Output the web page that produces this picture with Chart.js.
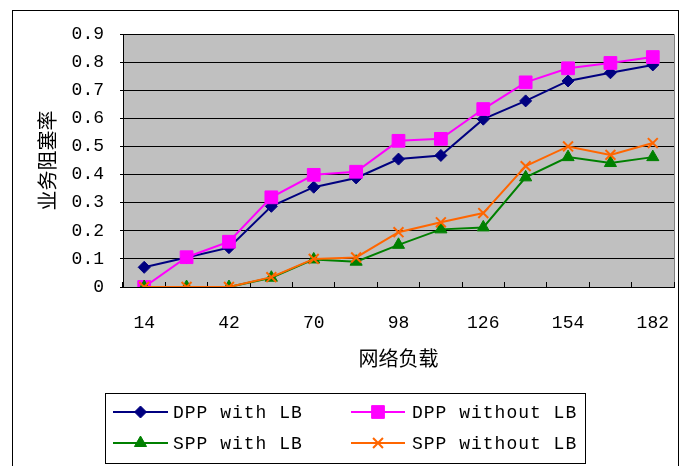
<!DOCTYPE html>
<html>
<head>
<meta charset="utf-8">
<script src="https://cdn.jsdelivr.net/npm/chart.js@4/dist/chart.umd.min.js"></script>
<style>
  html, body { margin: 0; padding: 0; background: #fff; }
  canvas { display: block; }
</style>
</head>
<body>
<canvas id="c" width="687" height="466"></canvas>
<script>
// Network load (x categories) and blocking rate per scheme
const categories = [14, 28, 42, 56, 70, 84, 98, 112, 126, 140, 154, 168, 182];
const dppWithLB    = [0.07, 0.105, 0.14, 0.287, 0.355, 0.388, 0.455, 0.468, 0.597, 0.662, 0.733, 0.762, 0.79];
const dppWithoutLB = [0, 0.106, 0.161, 0.319, 0.399, 0.41, 0.52, 0.527, 0.633, 0.728, 0.778, 0.797, 0.818];
const sppWithLB    = [0, 0, 0, 0.033, 0.098, 0.09, 0.15, 0.205, 0.212, 0.39, 0.462, 0.441, 0.462];
const sppWithoutLB = [0, 0, 0, 0.035, 0.1, 0.105, 0.195, 0.23, 0.263, 0.43, 0.5, 0.47, 0.512];
const yTickLabels = ['0', '0.1', '0.2', '0.3', '0.4', '0.5', '0.6', '0.7', '0.8', '0.9'];
const seriesNames = ['DPP with LB', 'DPP without LB', 'SPP with LB', 'SPP without LB'];
const xTitle = '网络负载';
const yTitle = '业务阻塞率';

const MONO = '"Liberation Mono", "DejaVu Sans Mono", monospace';
const CJK = '"Noto Sans CJK SC", "Noto Sans", sans-serif';

function series(label, data, color, pointStyle, radius, order) {
  return {
    label, data, order,
    borderColor: color,
    backgroundColor: color,
    pointBackgroundColor: color,
    pointBorderColor: color,
    borderWidth: 2,
    pointStyle,
    pointRadius: radius,
    pointBorderWidth: pointStyle === 'crossRot' ? 2 : 1,
    tension: 0,
    fill: false
  };
}

// Gray plot area, frame and outer border
const frame = {
  id: 'frame',
  beforeDraw(chart) {
    const { ctx, chartArea: a } = chart;
    ctx.save();
    ctx.fillStyle = '#fff';
    ctx.fillRect(0, 0, chart.width, chart.height);
    ctx.fillStyle = '#C0C0C0';
    ctx.fillRect(a.left, a.top, a.right - a.left, a.bottom - a.top);
    ctx.strokeStyle = '#808080';
    ctx.lineWidth = 1;
    ctx.beginPath();
    ctx.moveTo(a.left, Math.round(a.top) + 0.5);
    ctx.lineTo(Math.round(a.right) + 0.5, Math.round(a.top) + 0.5);
    ctx.lineTo(Math.round(a.right) + 0.5, a.bottom);
    ctx.stroke();
    ctx.strokeStyle = '#000';
    ctx.strokeRect(12.5, 10.5, 666, 480);
    ctx.restore();
  }
};

function marker(ctx, style, radius, bw, x, y) {
  if (window.Chart && Chart.helpers && Chart.helpers.drawPoint) {
    Chart.helpers.drawPoint(ctx, { pointStyle: style, radius, rotation: 0, borderWidth: bw }, x, y);
  }
}

// Two-column boxed legend with line-and-marker samples
const boxLegend = {
  id: 'boxLegend',
  afterDraw(chart) {
    const ctx = chart.ctx;
    ctx.save();
    ctx.strokeStyle = '#000';
    ctx.lineWidth = 1;
    ctx.strokeRect(105.5, 393.5, 480, 70);
    const cols = [{ x1: 113, x2: 168, tx: 173 }, { x1: 351, x2: 405, tx: 412 }];
    const rows = [412, 443];
    chart.data.datasets.forEach((ds, i) => {
      const c = cols[i % 2], y = rows[Math.floor(i / 2)];
      ctx.strokeStyle = ds.borderColor;
      ctx.fillStyle = ds.backgroundColor;
      ctx.lineWidth = 2;
      ctx.beginPath();
      ctx.moveTo(c.x1, y);
      ctx.lineTo(c.x2, y);
      ctx.stroke();
      ctx.lineWidth = ds.pointBorderWidth;
      marker(ctx, ds.pointStyle, ds.pointRadius, ds.pointBorderWidth, (c.x1 + c.x2) / 2, y);
      ctx.fillStyle = '#000';
      ctx.font = '18px ' + MONO;
      ctx.letterSpacing = '1px';
      ctx.textAlign = 'left';
      ctx.textBaseline = 'middle';
      ctx.fillText(ds.label, c.tx, y + 1);
    });
    ctx.restore();
  }
};

new Chart(document.getElementById('c'), {
  type: 'line',
  data: {
    labels: categories,
    datasets: [
      series(seriesNames[0], dppWithLB, '#000080', 'rectRot', 6, 3),
      series(seriesNames[1], dppWithoutLB, '#FF00FF', 'rect', 9, 2),
      series(seriesNames[2], sppWithLB, '#008000', 'triangle', 7, 1),
      series(seriesNames[3], sppWithoutLB, '#FF6600', 'crossRot', 7, 0)
    ]
  },
  options: {
    responsive: false,
    animation: false,
    devicePixelRatio: 1,
    layout: { padding: { left: 0, top: 34, right: 13, bottom: 0 } },
    plugins: {
      legend: { display: false },
      tooltip: { enabled: false }
    },
    scales: {
      x: {
        type: 'category',
        offset: true,
        grid: {
          offset: true,
          drawOnChartArea: false,
          drawTicks: true,
          tickLength: -5,
          color: '#000'
        },
        border: { display: true, color: '#000', width: 1 },
        ticks: {
          autoSkip: false,
          maxRotation: 0,
          padding: 30,
          color: '#000',
          font: { family: MONO, size: 18 },
          callback: (v, i) => (i % 2 === 0 ? String(categories[i]) : '')
        },
        title: {
          display: true,
          text: xTitle,
          color: '#000',
          font: { family: CJK, size: 20, lineHeight: 1 },
          padding: { top: 0, bottom: 98 }
        },
        afterFit: (s) => { s.height = 179; s.paddingLeft = 0; s.paddingRight = 0; }
      },
      y: {
        min: 0,
        max: 0.9,
        ticks: {
          stepSize: 0.1,
          padding: 16,
          color: '#000',
          font: { family: MONO, size: 18 },
          callback: (v, i) => yTickLabels[i]
        },
        grid: { color: '#000', lineWidth: 1, drawTicks: true, tickLength: 3 },
        border: { display: true, color: '#000', width: 1 },
        title: {
          display: true,
          text: yTitle,
          color: '#000',
          font: { family: CJK, size: 20, lineHeight: 1 },
          padding: { top: 37, bottom: 0 }
        },
        afterFit: (s) => { s.width = 123; s.paddingTop = 0; s.paddingBottom = 0; }
      }
    }
  },
  plugins: [frame, boxLegend]
});
</script>
</body>
</html>
